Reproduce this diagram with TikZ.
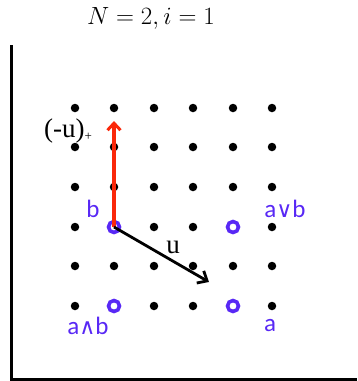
\documentclass[tikz,border=0pt]{standalone}
\usepackage{fontspec}
\setmainfont{Liberation Serif}
\newfontfamily\labfont{Carlito}
\newfontfamily\symfont{DejaVu Sans}
\usetikzlibrary{arrows.meta}
\definecolor{vio}{RGB}{88,40,245}
\definecolor{redarr}{RGB}{250,40,10}
\newcommand{\myvee}{{\symfont\fontsize{22}{24}\selectfont ∨}}
\newcommand{\mywedg}{{\symfont\fontsize{22}{24}\selectfont ∧}}
\tikzset{
  dot/.style={circle,fill=black,inner sep=0pt,minimum size=8.5pt},
  ring/.style={circle,draw=vio,line width=3.6pt,fill=white,inner sep=0pt,minimum size=11pt},
  lab/.style={text=vio,font=\labfont\fontsize{25}{27}\selectfont,inner sep=0pt},
  axis/.style={line width=3pt},
}
\begin{document}
\begin{tikzpicture}[x=1pt,y=-1pt]
\useasboundingbox (0,0) rectangle (357,381);
\node (title) at (151,18) {\fontsize{26}{29}\selectfont $N=2,i=1$};
\coordinate (top) at (11.5,45);
\coordinate (corner) at (11.5,379.5);
\coordinate (right) at (357,379.5);
\draw[axis] (top) -- (corner) -- (right);
% grid dots
\foreach \c/\x in {0/75,1/114,2/154,3/193,4/233,5/272}{
  \foreach \r/\y in {0/108,1/147,2/187,3/227,4/266,5/306}{
    \node[dot] (d\c\r) at (\x,\y) {};
  }
}
% rings
\node[ring] (b) at (d13) {};
\node[ring] (avb) at (d43) {};
\node[ring] (awb) at (d15) {};
\node[ring] (a) at (d45) {};
% arrows
\coordinate (redtip) at (114,121);
\coordinate (utip) at (209,282);
\draw[redarr,line width=3.6pt,-{Straight Barb[length=7pt,width=13pt,line width=3pt]}] (b.center) -- (redtip);
\draw[black,line width=2.8pt,-{Straight Barb[length=8pt,width=14pt,line width=2.8pt]}] (b.center) -- (utip);
% labels
\node[font=\fontsize{27}{29}\selectfont,inner sep=0pt] (ulab) at (173,247) {u};
\node[font=\fontsize{27}{29}\selectfont,inner sep=0pt,anchor=west] (mulab) at (44,131) {(-u)\raisebox{-3pt}{\fontsize{13}{14}\selectfont +}};
\node[lab] (lb) at (93,209) {b};
\node[lab] (lavb) at (285,209) {a\myvee b};
\node[lab] (lawb) at (88,326) {a\mywedg b};
\node[lab] (la) at (270,326) {a};
\end{tikzpicture}
\end{document}
